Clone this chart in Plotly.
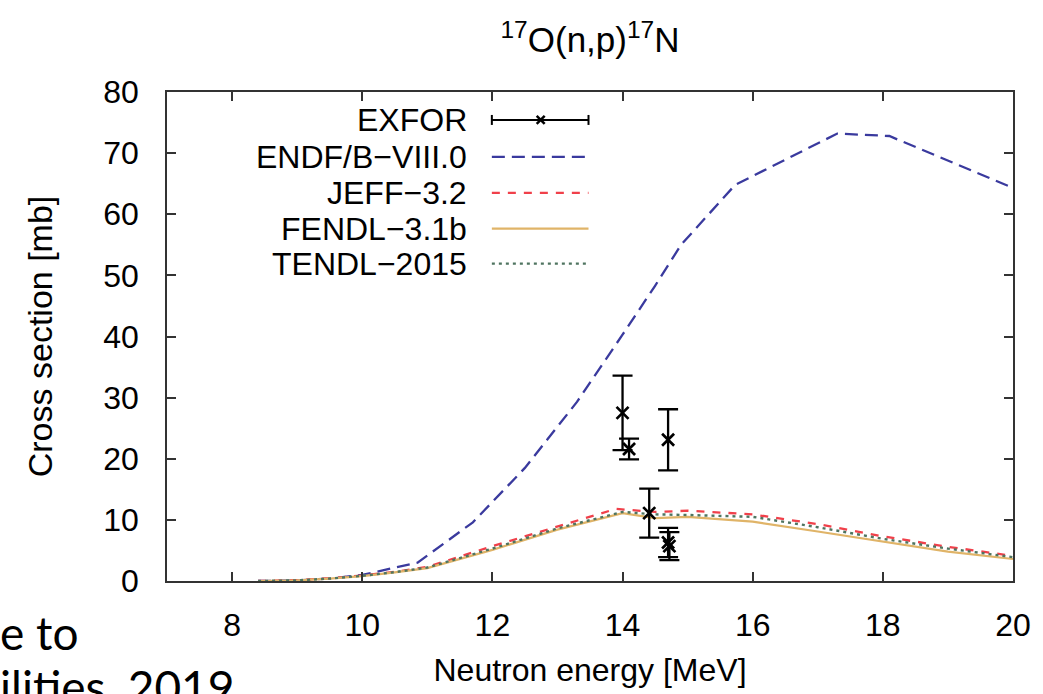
import plotly.graph_objects as go

# ---------------- data ----------------
e_endf = [8.4, 9.0, 9.5, 10.0, 10.85, 11.7, 12.5, 13.3, 14.0, 14.5, 14.9, 15.73, 17.3, 18.1, 20.0]
s_endf = [0.0, 0.1, 0.4, 1.0, 3.0, 9.6, 18.5, 29.3, 40.3, 48.3, 55.0, 64.8, 73.2, 72.8, 64.3]

e_jeff = [8.4, 9.0, 9.5, 10.0, 10.5, 11.0, 12.0, 13.0, 13.9, 14.5, 15.0, 16.0, 17.0, 18.0, 19.0, 20.0]
s_jeff = [0.0, 0.15, 0.45, 0.9, 1.5, 2.3, 5.7, 8.9, 11.8, 11.3, 11.5, 10.9, 9.3, 7.3, 5.6, 4.1]

e_fendl = [8.4, 9.0, 9.5, 10.0, 10.5, 11.0, 12.0, 13.0, 14.0, 14.5, 15.0, 16.0, 17.0, 18.0, 19.0, 20.0]
s_fendl = [0.0, 0.1, 0.4, 0.8, 1.4, 2.1, 5.1, 8.4, 11.1, 10.3, 10.5, 9.7, 8.1, 6.4, 4.8, 3.6]

e_tendl = [8.4, 9.0, 9.5, 10.0, 10.5, 11.0, 12.0, 13.0, 14.0, 14.5, 15.0, 16.0, 17.0, 18.0, 19.0, 20.0]
s_tendl = [0.0, 0.1, 0.4, 0.85, 1.45, 2.2, 5.3, 8.6, 11.3, 10.9, 10.8, 10.5, 8.8, 6.9, 5.3, 3.9]

e_exfor = [14.0, 14.1, 14.41, 14.7, 14.7, 14.72]
s_exfor = [27.5, 21.6, 11.1, 23.1, 6.3, 5.7]
d_exfor = [6.1, 1.7, 4.0, 5.0, 2.4, 2.3]

x_ticks = [8, 10, 12, 14, 16, 18, 20]
y_ticks = [0, 10, 20, 30, 40, 50, 60, 70, 80]

legend_labels = ["EXFOR", "ENDF/B\u2212VIII.0", "JEFF\u22123.2", "FENDL\u22123.1b", "TENDL\u22122015"]

# ---------------- styles ----------------
C_ENDF = "#3a3a9e"
C_JEFF = "#f0404a"
C_FENDL = "#e0b468"
C_TENDL = "#4f7460"
FONT = "Liberation Sans, Arial, sans-serif"

styles = [
    dict(color=C_ENDF, width=2.3, dash="13px,7px"),
    dict(color=C_JEFF, width=2.3, dash="8px,8px"),
    dict(color=C_FENDL, width=2.2, dash="solid"),
    dict(color=C_TENDL, width=2.4, dash="3px,4px"),
]

fig = go.Figure()
for (ex, sy), st in zip([(e_endf, s_endf), (e_jeff, s_jeff), (e_fendl, s_fendl), (e_tendl, s_tendl)], styles):
    fig.add_trace(go.Scatter(x=ex, y=sy, mode="lines", line=st, showlegend=False, hoverinfo="skip"))

fig.add_trace(go.Scatter(
    x=e_exfor, y=s_exfor, mode="markers",
    marker=dict(symbol="x-thin", size=12, line=dict(color="black", width=2.7), color="black"),
    error_y=dict(type="data", array=d_exfor, visible=True, color="black", thickness=2.3, width=10),
    showlegend=False,
))

# ---------------- custom legend (text left of sample) ----------------
L, R, T, B = 167, 1016, 92, 582
W, H = R - L, B - T
def px(x):
    return (x - L) / W
def py(y):
    return (B - y) / H

rows = [120, 157, 193, 229, 264]
ann = []
for lab, ry in zip(legend_labels, rows):
    ann.append(dict(text=lab, x=px(470), y=py(ry), xref="paper", yref="paper",
                    xanchor="right", yanchor="middle", showarrow=False,
                    font=dict(family=FONT, size=32, color="black")))

shapes = []
x0, x1 = px(493), px(590)
# EXFOR sample: line with caps and x
shapes.append(dict(type="line", xref="paper", yref="paper", x0=x0, x1=x1, y0=py(rows[0]), y1=py(rows[0]),
                   line=dict(color="black", width=2)))
for xc in (493, 590):
    shapes.append(dict(type="line", xref="paper", yref="paper", x0=px(xc), x1=px(xc),
                       y0=py(rows[0] - 5), y1=py(rows[0] + 5), line=dict(color="black", width=2)))
xm = 542
for s in (-1, 1):
    shapes.append(dict(type="line", xref="paper", yref="paper", x0=px(xm - 4), x1=px(xm + 4),
                       y0=py(rows[0] - 4 * s), y1=py(rows[0] + 4 * s), line=dict(color="black", width=2.5)))
for st, ry in zip(styles, rows[1:]):
    shapes.append(dict(type="line", xref="paper", yref="paper", x0=x0, x1=x1, y0=py(ry), y1=py(ry), line=st))

# clipped slide text at lower left
ann.append(dict(text="e to", x=px(-3), y=py(634), xref="paper", yref="paper", xanchor="left",
                yanchor="middle", showarrow=False, font=dict(family="Lato, sans-serif", size=46, color="black")))
ann.append(dict(text="ilities, 2019", x=px(-3), y=py(688), xref="paper", yref="paper", xanchor="left",
                yanchor="middle", showarrow=False, font=dict(family="Lato, sans-serif", size=46, color="black")))

fig.update_layout(
    width=1043, height=694,
    margin=dict(l=L, r=1043 - R, t=T, b=694 - B),
    paper_bgcolor="white", plot_bgcolor="white",
    font=dict(family=FONT, color="black"),
    title=dict(text="<sup>17</sup>O(n,p)<sup>17</sup>N", x=0.5, xref="paper", xanchor="center",
               y=1 - 40 / 694, yref="container", yanchor="middle",
               font=dict(family=FONT, size=35, color="black")),
    annotations=ann, shapes=shapes,
)
fig.update_xaxes(range=[7, 20], tickvals=x_ticks, ticks="inside", ticklen=9, tickwidth=1.5,
                 tickcolor="#333", showline=True, linecolor="#333", linewidth=1.5, mirror="ticks",
                 showgrid=False, zeroline=False, tickfont=dict(size=32, family=FONT, color="black"),
                 ticklabelstandoff=15,
                 title=dict(text="Neutron energy [MeV]", font=dict(size=32, family=FONT, color="black"), standoff=16))
fig.update_yaxes(range=[0, 80], tickvals=y_ticks, ticks="inside", ticklen=9, tickwidth=1.5,
                 tickcolor="#333", showline=True, linecolor="#333", linewidth=1.5, mirror="ticks",
                 showgrid=False, zeroline=False, tickfont=dict(size=32, family=FONT, color="black"),
                 ticklabelstandoff=20,
                 title=dict(text="Cross section [mb]", font=dict(size=34, family=FONT, color="black"), standoff=40))

fig.write_html("out.html", config={"displayModeBar": False},
               post_script="document.body.style.margin='0';")
